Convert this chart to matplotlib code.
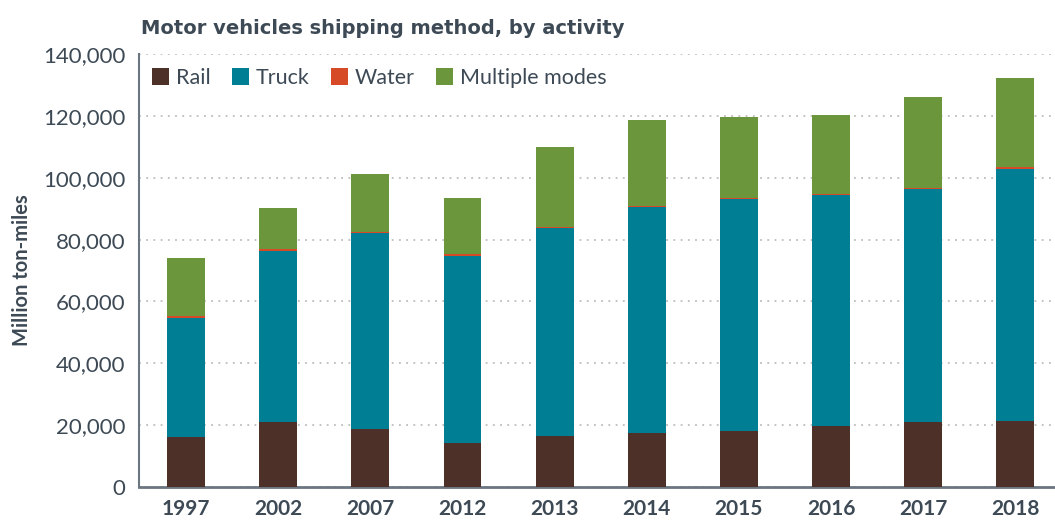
import matplotlib.pyplot as plt
import numpy as np

years = ["1997", "2002", "2007", "2012", "2013", "2014", "2015", "2016", "2017", "2018"]
rail = [16260, 20930, 18680, 14170, 16520, 17490, 18030, 19640, 21030, 21350]
truck = [38470, 55480, 63430, 60530, 67200, 72990, 75030, 74710, 75250, 81460]
water = [650, 640, 420, 650, 420, 420, 320, 320, 320, 550]
multiple = [18650, 13110, 18580, 18030, 25660, 27920, 26400, 25760, 29620, 28980]

series = [("Rail", rail, "#4d3128"),
          ("Truck", truck, "#007f94"),
          ("Water", water, "#d64a27"),
          ("Multiple modes", multiple, "#6c963c")]

text_col = "#3d4a55"
plt.rcParams['font.family'] = ['Lato', 'DejaVu Sans']

fig = plt.figure(figsize=(10.55, 5.2), dpi=100)
ax = fig.add_axes([0.1318, 0.0635, 0.8682, 0.8325])

x = np.arange(len(years))
bottom = np.zeros(len(years))
for name, vals, col in series:
    ax.bar(x, vals, width=0.41, bottom=bottom, color=col, label=name, zorder=3)
    bottom += np.array(vals)

ax.set_xlim(-0.51, 9.43)
ax.set_ylim(0, 140000)
ax.set_yticks(np.arange(0, 140001, 20000))
ax.set_yticklabels([f"{v:,}" for v in range(0, 140001, 20000)])
ax.set_xticks(x)
ax.set_xticklabels(years, fontweight='bold')

ax.tick_params(axis='y', length=0, labelsize=16, labelcolor=text_col, pad=10)
ax.tick_params(axis='x', length=0, labelsize=15, labelcolor=text_col, pad=9)

ax.grid(axis='y', linestyle=(0, (1, 3)), color="#bdbdbd", linewidth=1.3, zorder=0)
ax.set_axisbelow(True)

for s in ['top', 'right']:
    ax.spines[s].set_visible(False)
ax.spines['left'].set_color("#6b7680")
ax.spines['left'].set_linewidth(1.5)
ax.spines['bottom'].set_color("#6b7680")
ax.spines['bottom'].set_linewidth(2)

ax.set_ylabel("Million ton-miles", fontsize=14.5, fontweight='bold', color=text_col, labelpad=8)

# wider face for the heading
fig.text(0.1336, 0.945, "Motor vehicles shipping method, by activity", fontsize=14,
         fontweight='bold', family='DejaVu Sans', color=text_col, va='center', ha='left')

leg = ax.legend(loc='upper left', bbox_to_anchor=(0.0, 0.998), ncol=4, frameon=False,
                fontsize=15.5, handlelength=0.8, handleheight=0.8, handletextpad=0.3,
                columnspacing=1.0, borderaxespad=0.2)
for t in leg.get_texts():
    t.set_color(text_col)

plt.savefig("out.png", dpi=100)
